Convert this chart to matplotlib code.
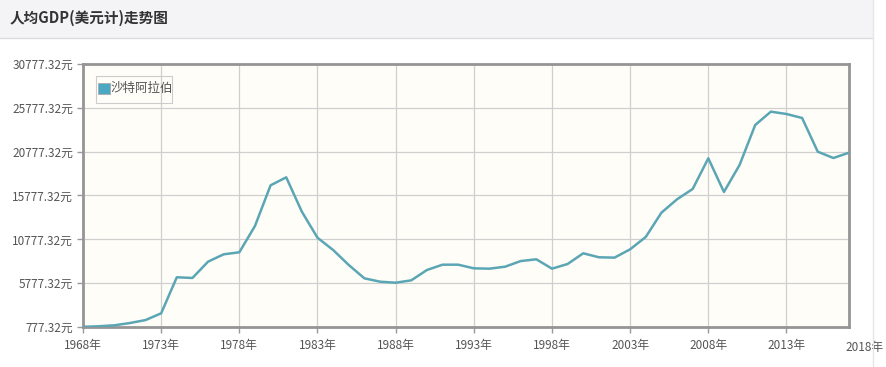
import matplotlib
matplotlib.use("Agg")
import matplotlib.pyplot as plt
from matplotlib.patches import Rectangle
from matplotlib.lines import Line2D

plt.rcParams["font.family"] = ["Noto Sans CJK SC", "DejaVu Sans"]

years = list(range(1968, 2018))
gdp = [
    800, 860, 970, 1230, 1570, 2340, 6450, 6370, 8230, 9070,
    9300, 12300, 16940, 17850, 13930, 10960, 9560, 7850, 6330, 5945,
    5830, 6100, 7280, 7885, 7885, 7470, 7430, 7655, 8300, 8500,
    7430, 7965, 9185, 8730, 8690, 9640, 11050, 13815, 15345, 16520,
    20020, 16180, 19260, 23820, 25340, 25075, 24620, 20775, 20055, 20660,
]
y_ticks = [777.32, 5777.32, 10777.32, 15777.32, 20777.32, 25777.32, 30777.32]
x_ticks = [1968, 1973, 1978, 1983, 1988, 1993, 1998, 2003, 2008, 2013]
extra_x_tick = 2018
series_name = "沙特阿拉伯"
title = "人均GDP(美元计)走势图"

fig = plt.figure(figsize=(8.86, 3.67), dpi=100)
fig.patch.set_facecolor("white")

# header band
W, H = 886, 367
fig.patches.append(Rectangle((0, 1 - 38 / H), 873 / W, 38 / H, transform=fig.transFigure,
                             facecolor="#f4f3f6", edgecolor="none", zorder=0))
fig.lines.append(Line2D([0, 873 / W], [1 - 38 / H] * 2, transform=fig.transFigure,
                        color="#dcdcdc", lw=1))
fig.lines.append(Line2D([873 / W] * 2, [0, 1], transform=fig.transFigure,
                        color="#e6e6e6", lw=1))
fig.text(10 / W, 1 - 18 / H, title, fontsize=10.5, fontweight="bold", color="#333333",
         va="center", ha="left")

ax = fig.add_axes([83 / W, 1 - 327 / H, 766 / W, 263 / H])
ax.set_facecolor("#fffdf8")
ax.plot(years, gdp, color="#5ba6b4", lw=1.8, zorder=3)

ax.set_xlim(1968, 2017)
ax.set_ylim(y_ticks[0], y_ticks[-1])
ax.set_yticks(y_ticks)
ax.set_yticklabels([f"{v:.2f}元" for v in y_ticks])
ax.set_xticks(x_ticks)
ax.set_xticklabels([f"{v}年" for v in x_ticks])
ax.tick_params(axis="both", labelsize=8.5, labelcolor="#555555", color="#999999",
               length=4, width=1, direction="out", pad=3)
ax.tick_params(axis="x", pad=5)
ax.text(extra_x_tick, -0.053, f"{extra_x_tick}年", transform=ax.get_xaxis_transform(),
        ha="center", va="top", fontsize=8.5, color="#555555", clip_on=False)
ax.grid(True, color="#cfcfcf", lw=0.9)
ax.set_axisbelow(True)
for side, sp in ax.spines.items():
    sp.set_color("#959595")
    sp.set_linewidth(2.0)

# legend box
fig.patches.append(Rectangle((96 / W, 1 - 103 / H), 76 / W, 27 / H, transform=fig.transFigure,
                             facecolor="none", edgecolor="#cccccc", lw=0.8, zorder=5))
fig.patches.append(Rectangle((98 / W, 1 - 94 / H), 12 / W, 11 / H, transform=fig.transFigure,
                             facecolor="#4aa8c2", edgecolor="#aaaaaa", lw=0.6, zorder=6))
fig.text(111 / W, 1 - 88.5 / H, series_name, fontsize=9, color="#555555",
         va="center", ha="left", zorder=6)

fig.savefig("out.png", dpi=100)
